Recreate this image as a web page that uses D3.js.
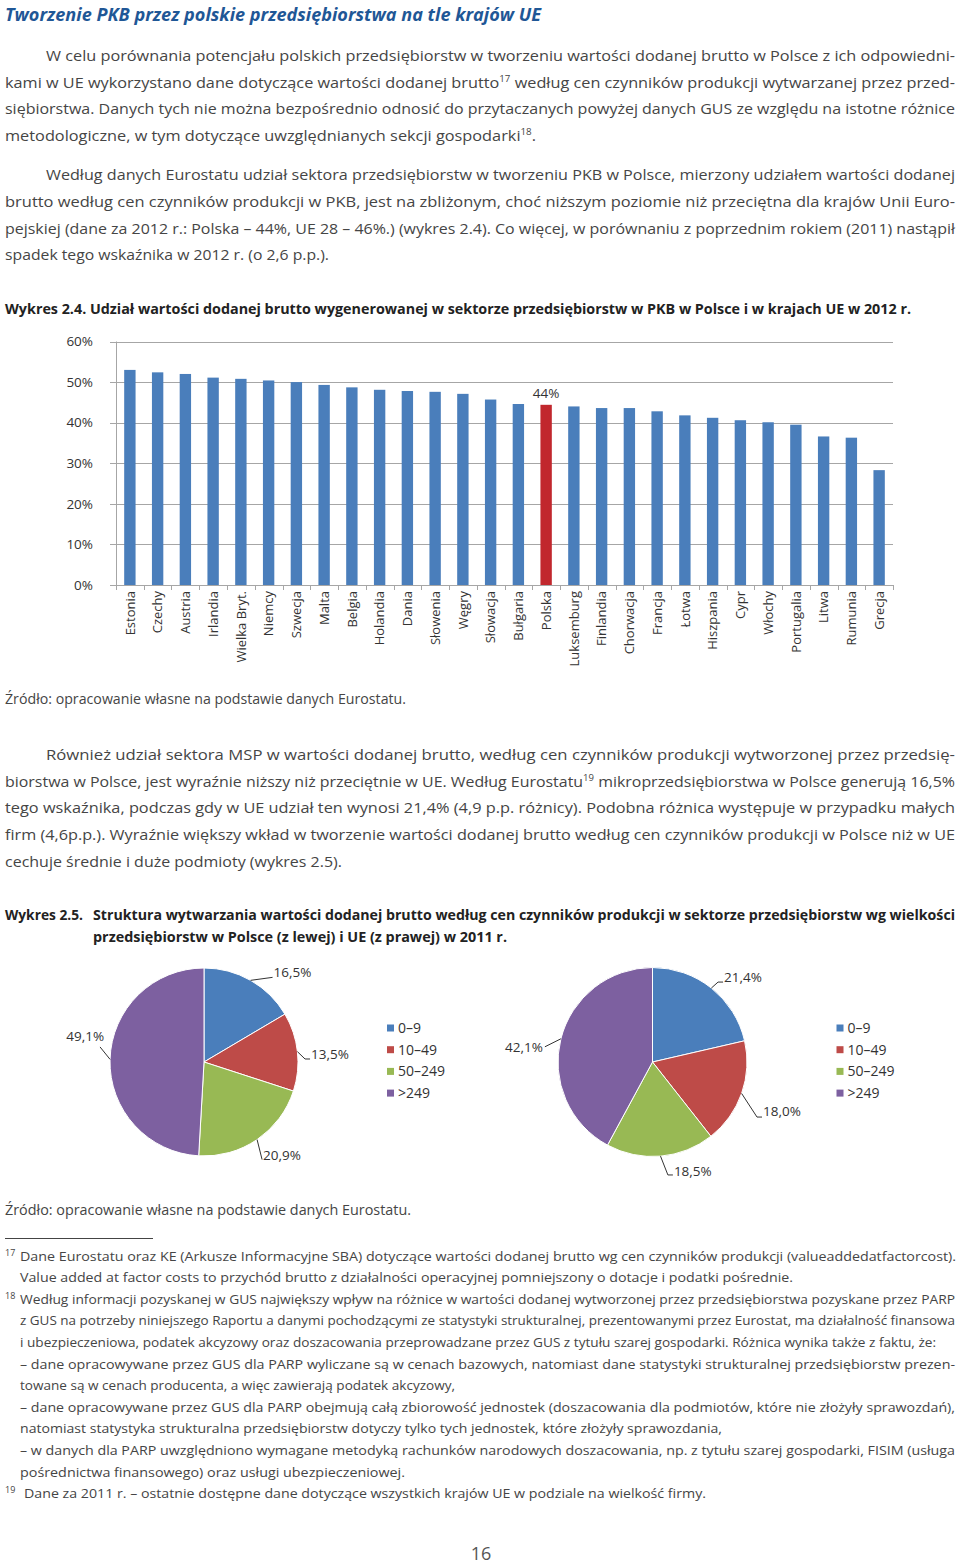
<!DOCTYPE html>
<html><head><meta charset="utf-8">
<script src="https://cdn.jsdelivr.net/npm/d3@7"></script>
<style>
body{margin:0;background:#fff}
svg{display:block}
.body{font-family:"Open Sans",sans-serif;font-size:15px;fill:#454545}
.note{font-family:"Open Sans",sans-serif;font-size:13.5px;fill:#454545}
.cap{font-family:"Open Sans",sans-serif;font-size:14px;font-weight:700;fill:#222}
.title{font-family:"Open Sans",sans-serif;font-size:18px;font-weight:700;font-style:italic;fill:#1f5796}
.ax{font-family:"Open Sans",sans-serif;font-size:13.5px;fill:#333}
</style>
</head><body>
<svg id="page" width="960" height="1565"></svg>
<script>
// ---------- DATA ----------
const countries = ["Estonia","Czechy","Austria","Irlandia","Wielka Bryt.","Niemcy","Szwecja","Malta","Belgia","Holandia","Dania","Słowenia","Węgry","Słowacja","Bułgaria","Polska","Luksemburg","Finlandia","Chorwacja","Francja","Łotwa","Hiszpania","Cypr","Włochy","Portugalia","Litwa","Rumunia","Grecja"];
const shares = [53.0,52.4,52.0,51.1,50.8,50.4,50.0,49.3,48.7,48.1,47.8,47.6,47.1,45.7,44.6,44.4,44.0,43.6,43.6,42.8,41.8,41.2,40.6,40.1,39.5,36.6,36.3,28.3];
const highlightCountry = "Polska";
const highlightLabel = "44%";
const yTicks = [0,10,20,30,40,50,60];
const sizeClasses = ["0–9","10–49","50–249",">249"];
const plShares = [16.5,13.5,20.9,49.1];
const euShares = [21.4,18.0,18.5,42.1];

// ---------- LAYOUT ----------
const svg = d3.select("#page");
const sizeColors = ["#4a7ebb","#be4b48","#98b954","#7d60a0"];

function addLine(spec){
  const t = svg.append("text").attr("class", spec.c).attr("x", spec.x).attr("y", spec.y);
  const parts = spec.t.split(/\^(\d+)\^/);
  let prevSup = false;
  parts.forEach((p,i)=>{
    if(i%2===1){
      t.append("tspan").attr("dy",-6).style("font-size","9px").text(p);
      prevSup = true;
    } else if(p.length){
      const ts = t.append("tspan").text(p);
      if(prevSup){ ts.attr("dy",6); prevSup=false; }
    }
  });
  if(spec.w) t.attr("textLength", spec.w).attr("lengthAdjust","spacingAndGlyphs");
  return t;
}

const lines = [
 {c:"title",x:5,y:20.5,w:536,t:"Tworzenie PKB przez polskie przedsiębiorstwa na tle krajów UE"},
 {c:"body",x:46,y:60.7,w:909,t:"W celu porównania potencjału polskich przedsiębiorstw w tworzeniu wartości dodanej brutto w Polsce z ich odpowiedni-"},
 {c:"body",x:5,y:87.5,w:950,t:"kami w UE wykorzystano dane dotyczące wartości dodanej brutto^17^ według cen czynników produkcji wytwarzanej przez przed-"},
 {c:"body",x:5,y:114.3,w:950,t:"siębiorstwa. Danych tych nie można bezpośrednio odnosić do przytaczanych powyżej danych GUS ze względu na istotne różnice"},
 {c:"body",x:5,y:141,w:531,t:"metodologiczne, w tym dotyczące uwzględnianych sekcji gospodarki^18^."},
 {c:"body",x:46,y:179.7,w:909,t:"Według danych Eurostatu udział sektora przedsiębiorstw w tworzeniu PKB w Polsce, mierzony udziałem wartości dodanej"},
 {c:"body",x:5,y:206.6,w:950,t:"brutto według cen czynników produkcji w PKB, jest na zbliżonym, choć niższym poziomie niż przeciętna dla krajów Unii Euro-"},
 {c:"body",x:5,y:233.5,w:950,t:"pejskiej (dane za 2012 r.: Polska – 44%, UE 28 – 46%.) (wykres 2.4). Co więcej, w porównaniu z poprzednim rokiem (2011) nastąpił"},
 {c:"body",x:5,y:260.4,w:324,t:"spadek tego wskaźnika w 2012 r. (o 2,6 p.p.)."},
 {c:"cap",x:5,y:313.5,w:906,t:"Wykres 2.4. Udział wartości dodanej brutto wygenerowanej w sektorze przedsiębiorstw w PKB w Polsce i w krajach UE w 2012 r."},
 {c:"body",x:5,y:703.5,w:401,t:"Źródło: opracowanie własne na podstawie danych Eurostatu."},
 {c:"body",x:46,y:759.7,w:909,t:"Również udział sektora MSP w wartości dodanej brutto, według cen czynników produkcji  wytworzonej przez przedsię-"},
 {c:"body",x:5,y:786.6,w:950,t:"biorstwa w Polsce, jest wyraźnie niższy niż przeciętnie w UE. Według Eurostatu^19^ mikroprzedsiębiorstwa w Polsce generują 16,5%"},
 {c:"body",x:5,y:813.4,w:950,t:"tego wskaźnika, podczas gdy w UE udział ten wynosi 21,4% (4,9 p.p. różnicy). Podobna różnica występuje w przypadku małych"},
 {c:"body",x:5,y:840.2,w:950,t:"firm (4,6p.p.). Wyraźnie większy wkład w tworzenie wartości dodanej brutto według cen czynników produkcji  w Polsce niż w UE"},
 {c:"body",x:5,y:867,w:337,t:"cechuje średnie i duże podmioty (wykres 2.5)."},
 {c:"cap",x:5,y:919.5,w:78,t:"Wykres 2.5."},
 {c:"cap",x:93,y:919.5,w:862,t:"Struktura wytwarzania wartości dodanej brutto według cen czynników produkcji w sektorze przedsiębiorstw wg wielkości"},
 {c:"cap",x:93,y:942,w:414,t:"przedsiębiorstw w Polsce (z lewej) i UE (z prawej) w 2011 r."},
 {c:"body",x:5,y:1214.5,w:406,t:"Źródło:  opracowanie własne na podstawie danych Eurostatu."}
];
lines.forEach(addLine);

// footnotes
const fy0 = 1260.5, fdy = 21.6;
const notes = [
 {x:20,w:936,t:"Dane Eurostatu oraz KE (Arkusze Informacyjne SBA) dotyczące wartości dodanej brutto wg cen czynników produkcji (valueaddedatfactorcost).",n:"17"},
 {x:20,w:773,t:"Value added at factor costs to przychód brutto z działalności operacyjnej pomniejszony o dotacje i podatki pośrednie."},
 {x:20,w:935,t:"Według informacji pozyskanej w GUS największy wpływ na różnice w wartości dodanej wytworzonej przez przedsiębiorstwa pozyskane przez PARP",n:"18"},
 {x:20,w:935,t:"z GUS na potrzeby niniejszego Raportu a danymi pochodzącymi ze statystyki strukturalnej, prezentowanymi przez Eurostat, ma działalność finansowa"},
 {x:20,w:916,t:"i ubezpieczeniowa, podatek akcyzowy oraz doszacowania przeprowadzane przez GUS z tytułu szarej gospodarki. Różnica wynika także z faktu, że:"},
 {x:20,w:935,t:"– dane opracowywane przez GUS dla PARP wyliczane są w cenach bazowych, natomiast dane statystyki strukturalnej przedsiębiorstw prezen-"},
 {x:20,w:435,t:"towane są w cenach producenta, a więc zawierają podatek akcyzowy,"},
 {x:20,w:935,t:"– dane opracowywane przez GUS dla PARP obejmują całą zbiorowość jednostek (doszacowania dla podmiotów, które nie złożyły sprawozdań),"},
 {x:20,w:702,t:"natomiast statystyka strukturalna przedsiębiorstw dotyczy tylko tych jednostek, które złożyły sprawozdania,"},
 {x:20,w:935,t:"– w danych dla PARP uwzględniono wymagane metodyką rachunków narodowych doszacowania, np. z tytułu szarej gospodarki, FISIM (usługa"},
 {x:20,w:385,t:"pośrednictwa finansowego) oraz usługi ubezpieczeniowej."},
 {x:24,w:682,t:"Dane za 2011 r. – ostatnie dostępne dane dotyczące wszystkich krajów UE w podziale na wielkość firmy.",n:"19"}
];
svg.append("line").attr("x1",5).attr("x2",153).attr("y1",1238.5).attr("y2",1238.5).attr("stroke","#444").attr("stroke-width",1);
notes.forEach((d,i)=>{
  const y = fy0 + i*fdy;
  addLine({c:"note",x:d.x,y:y,w:d.w,t:d.t});
  if(d.n) svg.append("text").attr("class","note").attr("x",5).attr("y",y-5).style("font-size","9px").text(d.n);
});
svg.append("text").attr("x",481).attr("y",1560).attr("text-anchor","middle")
  .style("font-family","Open Sans, sans-serif").style("font-size","18px").style("fill","#555").text("16");

// ---------- BAR CHART ----------
const x = d3.scaleBand().domain(countries).range([116,893]).paddingInner(0.59).paddingOuter(0.295);
const y = d3.scaleLinear().domain([0,60]).range([585,341.5]);
const gc = svg.append("g");
gc.selectAll("line.grid").data(yTicks).join("line").attr("class","grid")
  .attr("x1",110).attr("x2",893).attr("y1",d=>Math.round(y(d))+0.5).attr("y2",d=>Math.round(y(d))+0.5)
  .attr("stroke","#a6a6a6").attr("stroke-width",1);
gc.append("line").attr("x1",116.5).attr("x2",116.5).attr("y1",y(60)).attr("y2",y(0)).attr("stroke","#a6a6a6");
// category tick marks at band boundaries
const bounds = countries.map(c=>x(c)-x.step()*x.paddingInner()/2).concat([893]);
gc.selectAll("line.ct").data(bounds).join("line").attr("class","ct")
  .attr("x1",d=>Math.round(d)+0.5).attr("x2",d=>Math.round(d)+0.5).attr("y1",y(0)).attr("y2",y(0)+5).attr("stroke","#a6a6a6");
gc.selectAll("text.yt").data(yTicks).join("text").attr("class","ax")
  .attr("x",93).attr("y",d=>y(d)).attr("dy","0.35em").attr("text-anchor","end").text(d=>d+"%");
gc.selectAll("rect.bar").data(countries).join("rect").attr("class","bar")
  .attr("x",d=>x(d)).attr("width",x.bandwidth())
  .attr("y",(d,i)=>y(shares[i])).attr("height",(d,i)=>y(0)-y(shares[i]))
  .attr("fill",d=>d===highlightCountry?"#c1272d":"#4a7ebb");
gc.selectAll("text.cat").data(countries).join("text").attr("class","ax")
  .attr("transform",d=>`translate(${x(d)+x.bandwidth()/2},591) rotate(-90)`)
  .attr("text-anchor","end").attr("dy","0.36em").style("font-size","13px").text(d=>d);
const hi = countries.indexOf(highlightCountry);
gc.append("text").attr("class","ax").attr("x",x(highlightCountry)+x.bandwidth()/2)
  .attr("y",y(shares[hi])-7).attr("text-anchor","middle").text(highlightLabel);

// ---------- PIES ----------
const fmt = v => v.toFixed(1).replace(".",",")+"%";
// leader layout: elbow offset from slice edge point, horizontal tail, text placement
const plLeaders = [
 {ex:22,ey:-3,tail:0,side:1,ty:-5},
 {ex:7.6,ey:7.3,tail:5,side:1,ty:-5},
 {ex:5,ey:20,tail:0,side:1,ty:-4},
 {ex:-10,ey:-12.4,tail:0,side:-1,ty:-11,tx:4}
];
const euLeaders = [
 {ex:6.7,ey:-6,tail:5,side:1,ty:-5},
 {ex:15.4,ey:23.6,tail:5,side:1,ty:-6},
 {ex:7.4,ey:18.8,tail:5,side:1,ty:-4},
 {ex:-16,ey:8,tail:0,side:-1,ty:0,tx:-2}
];
function drawPie(cx, cy, r, vals, leaders, legendX){
  const g = svg.append("g").attr("transform",`translate(${cx},${cy})`);
  const arcs = d3.pie().sort(null)(vals);
  const arc = d3.arc().innerRadius(0).outerRadius(r);
  g.selectAll("path").data(arcs).join("path").attr("d",arc)
    .attr("fill",(d,i)=>sizeColors[i]).attr("stroke","#fff").attr("stroke-width",1);
  arcs.forEach((a,i)=>{
    const m = (a.startAngle+a.endAngle)/2;
    const p0 = [r*Math.sin(m), -r*Math.cos(m)];
    const L = leaders[i];
    const p1 = [p0[0]+L.ex, p0[1]+L.ey];
    const p2 = [p1[0]+L.tail*L.side, p1[1]];
    g.append("path").attr("d",d3.line()([p0,p1,p2])).attr("fill","none").attr("stroke","#333").attr("stroke-width",1);
    g.append("text").attr("class","ax").style("font-size","13.5px")
      .attr("x",p2[0]+(L.tx!==undefined?L.tx:1*L.side)).attr("y",p2[1]+L.ty).attr("dy","0.35em")
      .attr("text-anchor",L.side>0?"start":"end").text(fmt(vals[i]));
  });
  const lg = svg.append("g");
  sizeClasses.forEach((s,i)=>{
    const ly = 1028 + i*21.7;
    lg.append("rect").attr("x",legendX).attr("y",ly-3.5).attr("width",7).attr("height",7).attr("fill",sizeColors[i]);
    lg.append("text").attr("class","ax").style("font-size","14px").attr("x",legendX+11).attr("y",ly).attr("dy","0.35em").text(s);
  });
}
drawPie(204,1062,94,plShares,plLeaders,387);
drawPie(652.5,1062,94.5,euShares,euLeaders,836.5);
</script>
</body></html>
